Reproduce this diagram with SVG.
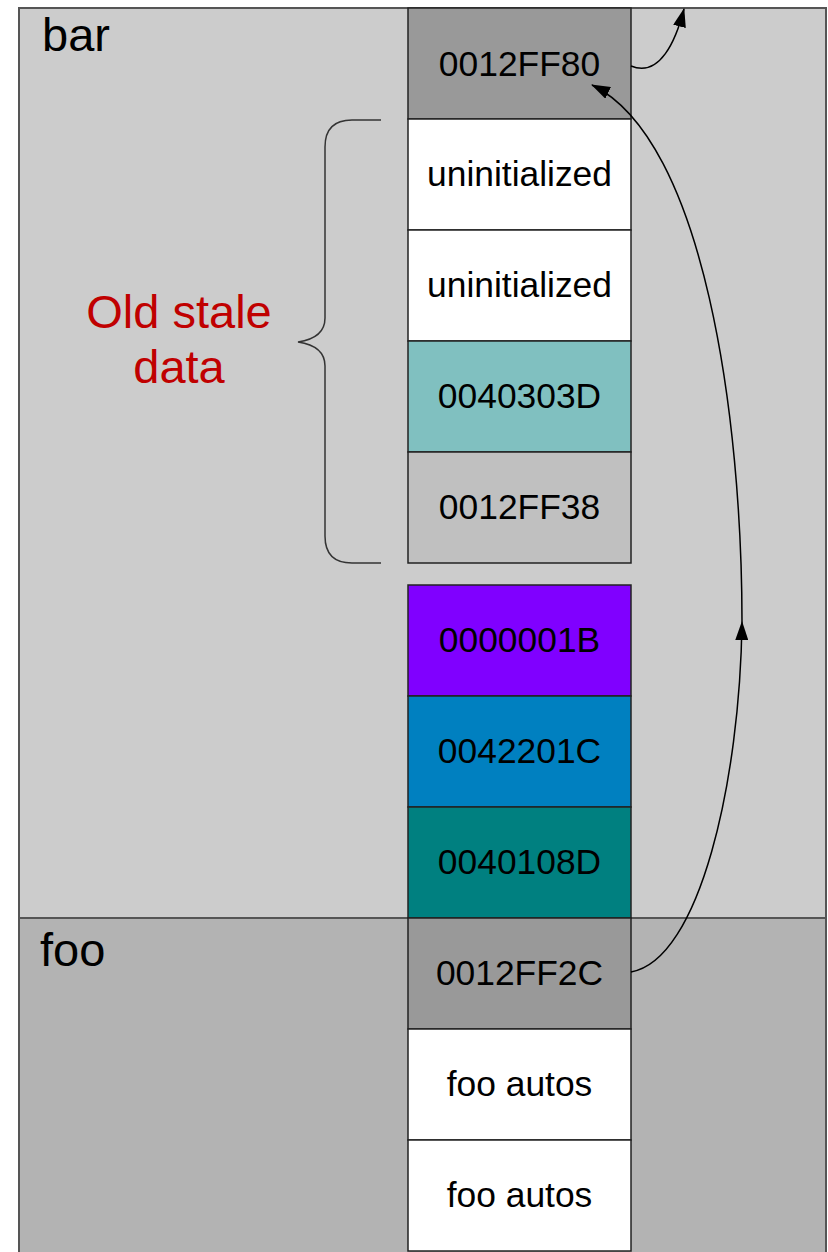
<svg xmlns="http://www.w3.org/2000/svg" width="828" height="1252" viewBox="0 0 828 1252">
  <defs>
    <style>
      .frame { stroke: #555555; stroke-width: 2; }
      .cell { stroke: #222222; stroke-width: 1.5; }
      .lbl { font-family: "Liberation Sans", Arial, sans-serif; font-size: 35.4px; fill: #000000; text-anchor: middle; }
      .title { font-family: "Liberation Sans", Arial, sans-serif; font-size: 47px; fill: #000000; }
      .note { font-family: "Liberation Sans", Arial, sans-serif; font-size: 47px; fill: #C00000; text-anchor: middle; }
      .link { fill: none; stroke: #000000; stroke-width: 1.5; }
    </style>
    <marker id="headBig" markerWidth="19" markerHeight="13" refX="18" refY="6.5" orient="auto" markerUnits="userSpaceOnUse" viewBox="0 0 19 13">
      <path d="M0,0 L19,6.5 L0,13 Z" fill="#000000"/>
    </marker>
  </defs>

  <!-- stack frames -->
  <g id="frame-bar">
    <rect class="frame" x="19" y="8" width="807" height="910" fill="#CCCCCC"/>
    <text class="title" x="42" y="51">bar</text>
  </g>
  <g id="frame-foo">
    <rect class="frame" x="19" y="918" width="807" height="340" fill="#B3B3B3"/>
    <text class="title" x="40" y="966">foo</text>
  </g>

  <!-- stack slots -->
  <g id="slot-bar-ebp">
    <rect class="cell" x="408" y="8" width="223" height="111" fill="#999999"/>
    <text class="lbl" x="519.5" y="76">0012FF80</text>
  </g>
  <g id="slot-uninit-1">
    <rect class="cell" x="408" y="119" width="223" height="111" fill="#FFFFFF"/>
    <text class="lbl" x="519.5" y="186">uninitialized</text>
  </g>
  <g id="slot-uninit-2">
    <rect class="cell" x="408" y="230" width="223" height="111" fill="#FFFFFF"/>
    <text class="lbl" x="519.5" y="297">uninitialized</text>
  </g>
  <g id="slot-stale-ret">
    <rect class="cell" x="408" y="341" width="223" height="111" fill="#80C0C0"/>
    <text class="lbl" x="519.5" y="408">0040303D</text>
  </g>
  <g id="slot-stale-ebp">
    <rect class="cell" x="408" y="452" width="223" height="111" fill="#C0C0C0"/>
    <text class="lbl" x="519.5" y="519">0012FF38</text>
  </g>
  <g id="slot-arg">
    <rect class="cell" x="408" y="585" width="223" height="111" fill="#8000FF"/>
    <text class="lbl" x="519.5" y="652">0000001B</text>
  </g>
  <g id="slot-ret-1">
    <rect class="cell" x="408" y="696" width="223" height="111" fill="#0080C0"/>
    <text class="lbl" x="519.5" y="763">0042201C</text>
  </g>
  <g id="slot-ret-2">
    <rect class="cell" x="408" y="807" width="223" height="111" fill="#008080"/>
    <text class="lbl" x="519.5" y="874">0040108D</text>
  </g>
  <g id="slot-foo-ebp">
    <rect class="cell" x="408" y="918" width="223" height="111" fill="#999999"/>
    <text class="lbl" x="519.5" y="985">0012FF2C</text>
  </g>
  <g id="slot-foo-auto-1">
    <rect class="cell" x="408" y="1029" width="223" height="111" fill="#FFFFFF"/>
    <text class="lbl" x="519.5" y="1096">foo autos</text>
  </g>
  <g id="slot-foo-auto-2">
    <rect class="cell" x="408" y="1140" width="223" height="111" fill="#FFFFFF"/>
    <text class="lbl" x="519.5" y="1207">foo autos</text>
  </g>

  <!-- brace marking the leftover region -->
  <g id="stale-note">
    <path d="M381,120 L352,120 Q325,120 325,147 L325,318 Q325,338 298,342 Q325,346 325,366 L325,536 Q325,563 352,563 L381,563" fill="none" stroke="#333333" stroke-width="1.5"/>
    <text class="note" x="179" y="328">Old stale</text>
    <text class="note" x="179" y="383">data</text>
  </g>

  <!-- saved frame pointer links -->
  <g id="connectors">
    <path class="link" d="M631,66 C660,78 676,40 684,9" marker-end="url(#headBig)"/>
    <path class="link" d="M631,972 C700,960 740,780 742,622" marker-end="url(#headBig)"/>
    <path class="link" d="M742,622 C742,420 705,140 592,85" marker-end="url(#headBig)"/>
  </g>
</svg>
